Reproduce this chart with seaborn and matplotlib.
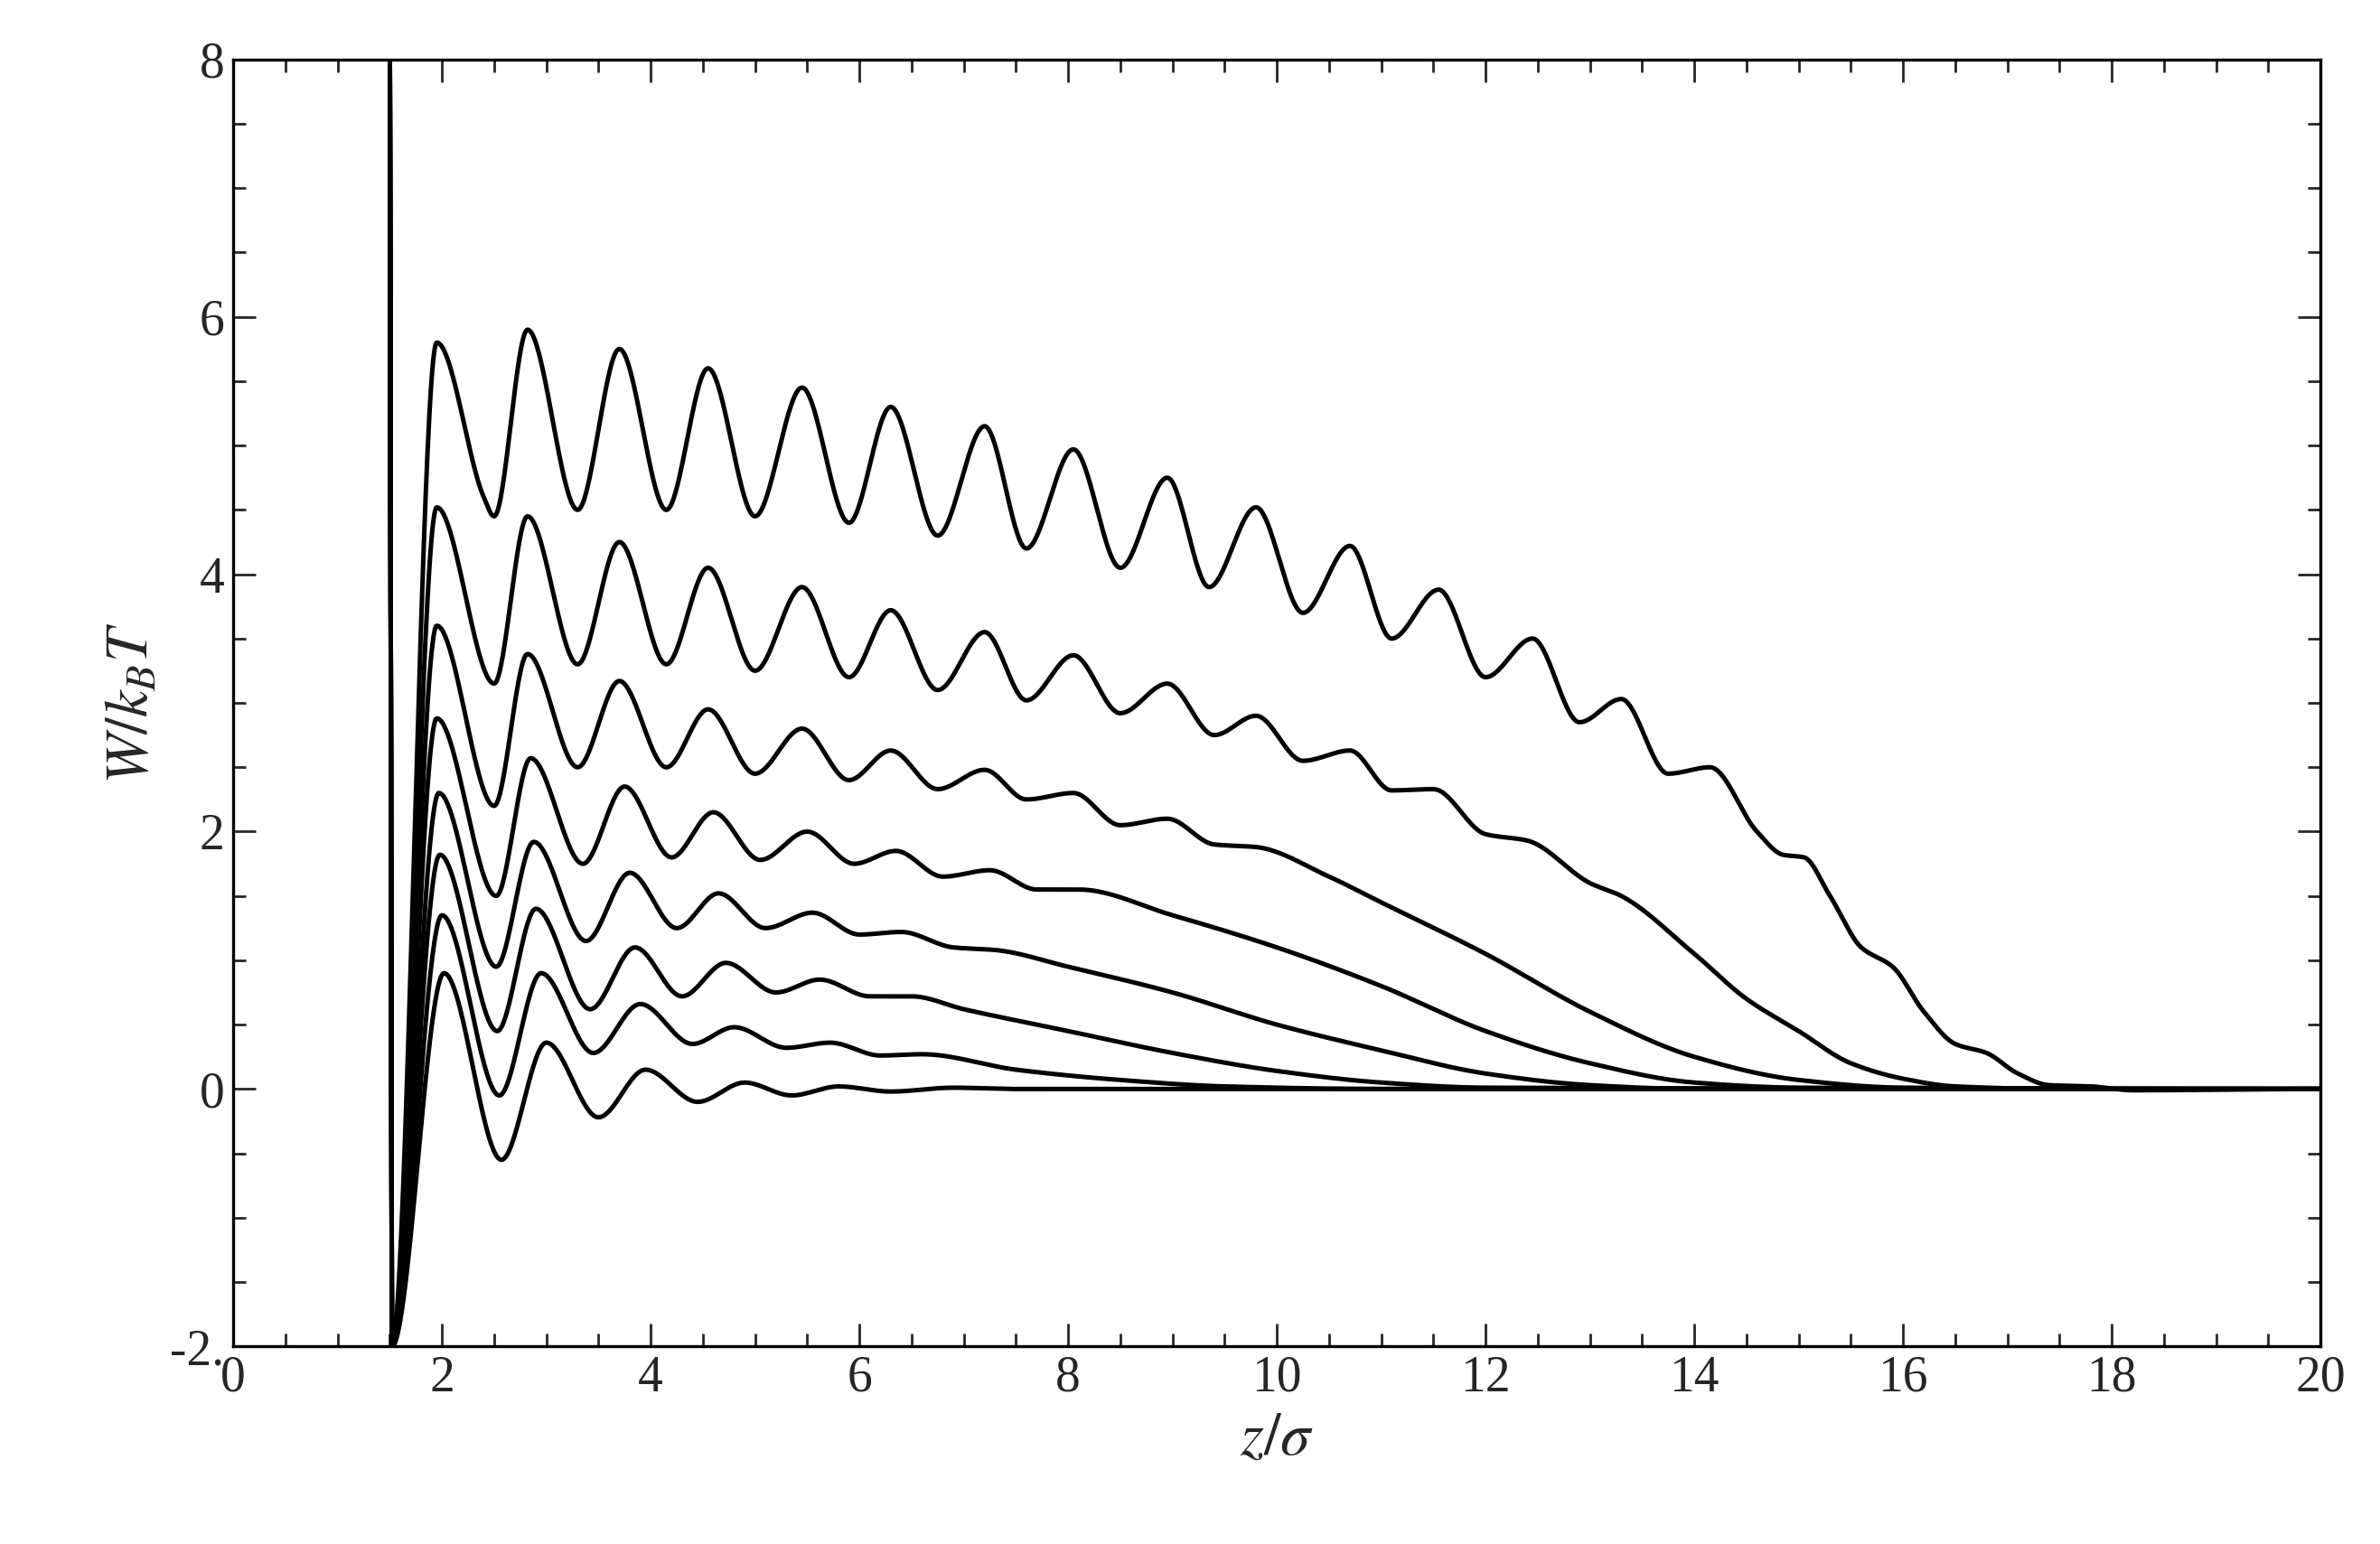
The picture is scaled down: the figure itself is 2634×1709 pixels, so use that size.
import numpy as np
import pandas as pd
import matplotlib
matplotlib.use("Agg")
import matplotlib.pyplot as plt
import seaborn as sns
from matplotlib.ticker import MultipleLocator, FixedLocator

# Read-off extrema / key points of each curve (z/sigma, W/kBT)
z1 = [1.5,1.52,1.95,2.4,2.5,2.82,3.3,3.7,4.15,4.55,5.0,5.45,5.9,6.3,6.75,7.2,7.6,8.05,8.5,8.95,9.35,9.8,10.25,10.7,11.1,11.55,12.0,12.45,12.9,13.3,13.75,14.15,14.6,14.85,15.05,15.3,15.6,15.9,16.2,16.5,16.8,17.1,17.4,17.8,18.2,20]
w1 = [8.5,-2,5.8,4.6,4.45,5.9,4.5,5.75,4.5,5.6,4.45,5.45,4.4,5.3,4.3,5.15,4.2,4.97,4.05,4.75,3.9,4.52,3.7,4.22,3.5,3.88,3.2,3.5,2.85,3.03,2.45,2.5,2.0,1.82,1.8,1.5,1.1,0.95,0.6,0.35,0.28,0.12,0.03,0.02,-0.01,0]
z2 = [1.5,1.52,1.95,2.5,2.82,3.3,3.7,4.15,4.55,5.0,5.45,5.9,6.3,6.75,7.2,7.6,8.05,8.5,8.95,9.4,9.8,10.25,10.7,11.1,11.5,12.0,12.4,13.0,13.3,14.0,14.5,15.0,15.5,16.0,16.5,17.5,20]
w2 = [8.5,-2,4.52,3.15,4.45,3.3,4.25,3.3,4.05,3.25,3.9,3.2,3.72,3.1,3.55,3.02,3.37,2.92,3.15,2.75,2.9,2.55,2.63,2.32,2.33,1.98,1.93,1.6,1.5,1.05,0.7,0.45,0.2,0.08,0.02,0,0]
z3 = [1.5,1.52,1.95,2.5,2.82,3.3,3.7,4.15,4.55,5.0,5.45,5.9,6.3,6.75,7.2,7.6,8.05,8.5,8.95,9.4,9.8,10.5,11.0,12.0,13.0,14.0,15.0,16.0,20]
w3 = [8.5,-2,3.6,2.2,3.38,2.5,3.17,2.5,2.95,2.45,2.8,2.4,2.63,2.33,2.48,2.25,2.3,2.05,2.1,1.9,1.88,1.65,1.45,1.05,0.6,0.25,0.07,0.01,0]
z4 = [1.5,1.52,1.95,2.52,2.85,3.35,3.75,4.2,4.6,5.05,5.5,5.95,6.35,6.8,7.25,7.7,8.1,9.0,10.0,11.0,12.0,13.0,14.0,15.0,20]
w4 = [8.5,-2,2.88,1.5,2.57,1.75,2.35,1.8,2.15,1.78,2.0,1.75,1.85,1.65,1.7,1.55,1.55,1.35,1.1,0.8,0.45,0.2,0.05,0.01,0]
z5 = [1.5,1.52,1.97,2.52,2.88,3.38,3.8,4.25,4.65,5.1,5.55,6.0,6.4,6.9,7.3,8.0,9.0,10.0,11.0,12.0,13.0,14.0,20]
w5 = [8.5,-2,2.3,0.95,1.92,1.15,1.68,1.25,1.52,1.25,1.37,1.2,1.22,1.1,1.08,0.95,0.75,0.5,0.3,0.12,0.03,0,0]
z6 = [1.5,1.52,1.98,2.53,2.9,3.42,3.85,4.3,4.72,5.2,5.62,6.1,6.5,7.0,8.0,9.0,10.0,11.0,12.0,20]
w6 = [8.5,-2,1.82,0.45,1.4,0.62,1.1,0.72,0.98,0.75,0.85,0.72,0.72,0.62,0.45,0.28,0.14,0.05,0.01,0]
z7 = [1.5,1.52,2.0,2.55,2.95,3.45,3.9,4.4,4.8,5.3,5.72,6.2,6.6,7.5,8.5,9.5,11.0,20]
w7 = [8.5,-2,1.35,-0.05,0.9,0.28,0.66,0.35,0.48,0.32,0.36,0.26,0.27,0.15,0.07,0.02,0,0]
z8 = [1.5,1.52,2.02,2.57,3.0,3.5,3.95,4.45,4.9,5.35,5.8,6.3,6.9,7.5,20]
w8 = [8.5,-2,0.9,-0.55,0.36,-0.22,0.15,-0.1,0.05,-0.05,0.02,-0.02,0.01,0,0]

curves = [(z1,w1),(z2,w2),(z3,w3),(z4,w4),(z5,w5),(z6,w6),(z7,w7),(z8,w8)]
ytick_vals = [-2,0,2,4,6,8]
ytick_labels = ['-2.','0','2','4','6','8']

def pchip(x, y, xn):
    x = np.asarray(x, float); y = np.asarray(y, float)
    h = np.diff(x); d = np.diff(y)/h
    m = np.zeros_like(y)
    for k in range(1, len(x)-1):
        if d[k-1]*d[k] > 0:
            w1_ = 2*h[k]+h[k-1]; w2_ = h[k]+2*h[k-1]
            m[k] = (w1_+w2_)/(w1_/d[k-1]+w2_/d[k])
    m[0] = 0; m[-1] = 0
    idx = np.clip(np.searchsorted(x, xn)-1, 0, len(x)-2)
    t = (xn-x[idx])/h[idx]
    h00 = 2*t**3-3*t**2+1; h10 = t**3-2*t**2+t; h01 = -2*t**3+3*t**2; h11 = t**3-t**2
    return h00*y[idx]+h10*h[idx]*m[idx]+h01*y[idx+1]+h11*h[idx]*m[idx+1]

sns.set_theme(style="ticks")
plt.rcParams['font.family'] = ['Liberation Serif', 'DejaVu Serif']
plt.rcParams['mathtext.fontset'] = 'stix'

fig = plt.figure(figsize=(13.17, 8.545), dpi=200)
ax = fig.add_axes([0.098, 0.128, 0.877, 0.8335])

rows = []
for i, (z, w) in enumerate(curves):
    zn = np.concatenate([[1.5], np.linspace(1.52, 20, 2000)])
    wn = pchip(z, w, zn)
    rows.append(pd.DataFrame({'z': zn, 'W': wn, 'c': i}))
df = pd.concat(rows)
sns.lineplot(data=df, x='z', y='W', units='c', estimator=None, color='black',
             lw=1.8, ax=ax, sort=False)

ax.set_xlim(0, 20); ax.set_ylim(-2, 8)
ax.xaxis.set_major_locator(MultipleLocator(2))
ax.xaxis.set_minor_locator(MultipleLocator(0.5))
ax.yaxis.set_major_locator(FixedLocator(ytick_vals))
ax.set_yticklabels(ytick_labels)
ax.yaxis.set_minor_locator(MultipleLocator(0.5))
ax.tick_params(which='both', direction='in', top=True, right=True, labelsize=20, width=1.0)
ax.tick_params(which='major', length=9)
ax.tick_params(which='minor', length=5)
for s in ax.spines.values():
    s.set_linewidth(1.2); s.set_color('black')
ax.set_xlabel(r'$z/\sigma$', fontsize=24)
ax.set_ylabel(r'$W/k_BT$', fontsize=24)
fig.savefig('out.png', dpi=200)
